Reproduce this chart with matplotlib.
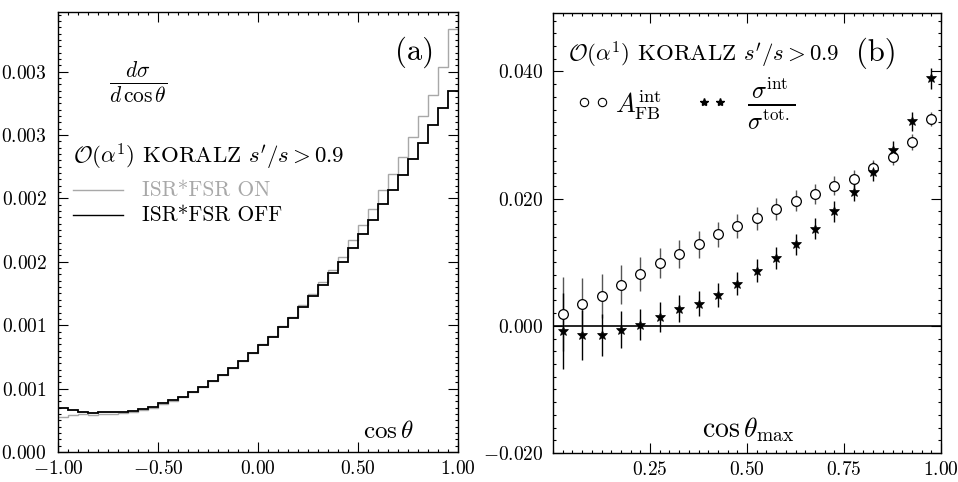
import numpy as np
import matplotlib
matplotlib.use("Agg")
from matplotlib import pyplot as plt
from matplotlib.ticker import MultipleLocator

plt.rcParams['mathtext.fontset'] = 'cm'
plt.rcParams['font.family'] = ['cmr10', 'DejaVu Serif']
plt.rcParams['axes.formatter.use_mathtext'] = True

# ---- panel (a): d sigma / d cos theta, 40 bins in cos theta
bin_edges = np.linspace(-1.0, 1.0, 41)
isr_fsr_off = [0.000344, 0.000331, 0.000318, 0.000304, 0.000312, 0.000315, 0.000315, 0.000323,
               0.000341, 0.000357, 0.000383, 0.000409, 0.000436, 0.000475, 0.000514, 0.000559,
               0.000606, 0.000664, 0.000719, 0.000777, 0.000845, 0.000908, 0.000987, 0.001060,
               0.001144, 0.001231, 0.001320, 0.001412, 0.001499, 0.001611, 0.001720, 0.001830,
               0.001958, 0.002063, 0.002181, 0.002312, 0.002436, 0.002575, 0.002714, 0.002850]
isr_fsr_on = [0.000278, 0.000290, 0.000296, 0.000292, 0.000298, 0.000302, 0.000305, 0.000312,
              0.000328, 0.000346, 0.000375, 0.000403, 0.000432, 0.000470, 0.000510, 0.000556,
              0.000604, 0.000662, 0.000718, 0.000778, 0.000848, 0.000913, 0.000992, 0.001066,
              0.001157, 0.001244, 0.001341, 0.001433, 0.001538, 0.001669, 0.001787, 0.001919,
              0.002063, 0.002194, 0.002325, 0.002483, 0.002646, 0.002819, 0.003034, 0.003336]
a_xticks = [-1.0, -0.5, 0.0, 0.5, 1.0]
a_xlabels = ['$-1.00$', '$-0.50$', '$0.00$', '$0.50$', '$1.00$']
a_yticks = [0.0, 0.0005, 0.001, 0.0015, 0.002, 0.0025, 0.003]
a_ylabels = ['$0.000$', '$0.001$', '$0.001$', '$0.002$', '$0.002$', '$0.003$', '$0.003$']

# ---- panel (b): integrated asymmetry and cross section ratio vs cos theta_max
cos_max = [0.025, 0.075, 0.125, 0.175, 0.225, 0.275, 0.325, 0.375, 0.425, 0.475,
           0.525, 0.575, 0.625, 0.675, 0.725, 0.775, 0.825, 0.875, 0.925, 0.975]
afb_int = [0.0019, 0.0034, 0.0047, 0.0065, 0.0082, 0.0099, 0.0113, 0.0128, 0.0144, 0.0157,
           0.0169, 0.0184, 0.0197, 0.0207, 0.0220, 0.0231, 0.0248, 0.0266, 0.0289, 0.0325]
afb_err = [0.0058, 0.0042, 0.0034, 0.0030, 0.0027, 0.0024, 0.0022, 0.0021, 0.0020, 0.0019,
           0.0018, 0.0017, 0.0016, 0.0016, 0.0015, 0.0014, 0.0013, 0.0013, 0.0012, 0.0011]
sig_ratio = [-0.0008, -0.0014, -0.0014, -0.0006, 0.0002, 0.0014, 0.0027, 0.0035, 0.0049, 0.0066,
             0.0087, 0.0107, 0.0128, 0.0153, 0.0180, 0.0211, 0.0242, 0.0276, 0.0322, 0.0389]
sig_err = [0.0060, 0.0039, 0.0033, 0.0029, 0.0025, 0.0023, 0.0021, 0.0020, 0.0019, 0.0018,
           0.0018, 0.0017, 0.0017, 0.0016, 0.0016, 0.0015, 0.0015, 0.0015, 0.0015, 0.0016]
b_xticks = [0.25, 0.5, 0.75, 1.0]
b_xlabels = ['$0.25$', '$0.50$', '$0.75$', '$1.00$']
b_yticks = [-0.02, 0.0, 0.02, 0.04]
b_ylabels = ['$-0.020$', '$0.000$', '$0.020$', '$0.040$']

fig = plt.figure(figsize=(9.58, 4.82), dpi=100)
ax1 = fig.add_axes([58/958, 1-452/482, 400/958, 440/482])
ax2 = fig.add_axes([553/958, 1-453/482, 388/958, 440/482])

def style_ticks(ax, xmin, ymin, pad):
    ax.xaxis.set_minor_locator(MultipleLocator(xmin))
    ax.yaxis.set_minor_locator(MultipleLocator(ymin))
    ax.tick_params(which='both', direction='in', top=True, right=True, labelsize=14, width=0.8)
    ax.tick_params(which='major', length=7)
    ax.tick_params(which='minor', length=2.5)
    ax.tick_params(axis='y', pad=pad)
    ax.tick_params(axis='x', pad=6)
    for s in ax.spines.values():
        s.set_linewidth(1.0)

# panel (a)
ax1.stairs(isr_fsr_on, bin_edges, baseline=None, color='#a8a8a8', lw=1.0)
ax1.stairs(isr_fsr_off, bin_edges, baseline=None, color='black', lw=1.3)
ax1.set_xlim(-1.0, 1.0)
ax1.set_ylim(0.0, 0.00347)
ax1.set_xticks(a_xticks, a_xlabels)
ax1.set_yticks(a_yticks, a_ylabels)
style_ticks(ax1, 0.05, 0.00005, 8)

ax1.text(0.20, 0.84, r'$\frac{d\sigma}{d\,\cos\theta}$', transform=ax1.transAxes,
         fontsize=22, ha='center', va='center')
ax1.text(0.8925, 0.909, '(a)', transform=ax1.transAxes, fontsize=22, ha='center', va='center')
ax1.text(0.0375, 0.67, r'$\mathcal{O}(\alpha^1)$ KORALZ $s^\prime/s>0.9$', transform=ax1.transAxes,
         fontsize=16.5, ha='left', va='center')
ax1.plot([0.0375, 0.1625], [0.595, 0.595], color='#a8a8a8', lw=1.0, transform=ax1.transAxes)
ax1.plot([0.0375, 0.1625], [0.539, 0.539], color='black', lw=1.0, transform=ax1.transAxes)
ax1.text(0.21, 0.595, 'ISR*FSR ON', transform=ax1.transAxes, fontsize=15.5, color='#a8a8a8',
         ha='left', va='center')
ax1.text(0.21, 0.539, 'ISR*FSR OFF', transform=ax1.transAxes, fontsize=15.5, color='black',
         ha='left', va='center')
ax1.text(0.825, 0.045, r'$\cos\theta$', transform=ax1.transAxes, fontsize=18, ha='center', va='center')

# panel (b)
ax2.axhline(0.0, color='black', lw=1.2)
ax2.errorbar(cos_max, afb_int, yerr=afb_err, fmt='o', ms=7, mfc='white', mec='black', mew=0.9,
             ecolor='#555555', elinewidth=1.0, capsize=0)
ax2.errorbar(cos_max, sig_ratio, yerr=sig_err, fmt='*', ms=7, color='black', mew=0.5,
             ecolor='black', elinewidth=1.0, capsize=0)
ax2.set_xlim(0.0, 1.0)
ax2.set_ylim(-0.02, 0.0492)
ax2.set_xticks(b_xticks, b_xlabels)
ax2.set_yticks(b_yticks, b_ylabels)
style_ticks(ax2, 0.025, 0.002, 7)

ax2.text(0.039, 0.905, r'$\mathcal{O}(\alpha^1)$ KORALZ $s^\prime/s>0.9$', transform=ax2.transAxes,
         fontsize=16.5, ha='left', va='center')
ax2.text(0.832, 0.909, '(b)', transform=ax2.transAxes, fontsize=22, ha='center', va='center')
ax2.plot([0.08, 0.126], [0.798, 0.798], 'o', ms=6, mfc='white', mec='black', mew=0.8,
         transform=ax2.transAxes)
ax2.text(0.16, 0.79, r'$A_{\rm FB}^{\rm int}$', transform=ax2.transAxes, fontsize=19,
         ha='left', va='center')
ax2.plot([0.389, 0.430], [0.798, 0.798], '*', ms=6, color='black', transform=ax2.transAxes)
ax2.text(0.5, 0.793, r'$\frac{\sigma^{\rm int}}{\sigma^{\rm tot.}}$', transform=ax2.transAxes,
         fontsize=25, ha='left', va='center')
ax2.text(0.503, 0.052, r'$\cos\theta_{\rm max}$', transform=ax2.transAxes, fontsize=20,
         ha='center', va='center')

fig.savefig('out.png', dpi=100)
